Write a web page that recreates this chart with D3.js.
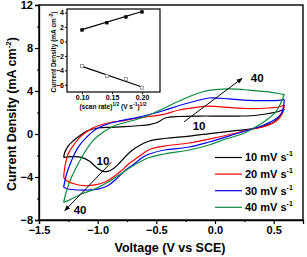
<!DOCTYPE html>
<html><head><meta charset="utf-8">
<script src="https://cdn.jsdelivr.net/npm/d3@7"></script>
<style>body{margin:0;background:#fff}svg{display:block;font-family:"Liberation Sans",Arial,sans-serif;font-weight:bold}</style>
</head><body><svg id="c" width="307" height="257"></svg>
<script>
// ---- data ----
const seriesNames = ["10 mV s", "20 mV s", "30 mV s", "40 mV s"];
const seriesColors = ["#000000", "#ff0000", "#0000ff", "#0a8a3c"];
// anodic (upper) branches, from left vertex to right vertex [V, J]
const up10 = [[-1.29,-2.17],[-1.280,-1.70],[-1.252,-1.12],[-1.209,-0.65],[-1.153,-0.16],[-1.082,0.31],[-0.997,0.56],[-0.884,0.62],[-0.771,0.68],[-0.658,0.77],[-0.559,0.88],[-0.492,1.07],[-0.424,1.49],[-0.305,1.63],[-0.136,1.67],[0.034,1.67],[0.203,1.67],[0.331,1.72],[0.458,1.91],[0.542,2.09],[0.59,2.33]];
const up20 = [[-1.29,-4.03],[-1.280,-3.10],[-1.252,-1.86],[-1.209,-1.09],[-1.153,-0.31],[-1.082,0.31],[-0.997,0.77],[-0.884,1.09],[-0.771,1.24],[-0.658,1.49],[-0.559,1.63],[-0.449,1.81],[-0.305,2.23],[-0.164,2.48],[-0.051,2.60],[0.119,2.47],[0.288,2.37],[0.458,2.42],[0.542,2.51],[0.59,2.70]];
const up30 = [[-1.29,-4.96],[-1.265,-3.72],[-1.223,-2.48],[-1.167,-1.24],[-1.096,-0.31],[-1.011,0.47],[-0.913,0.93],[-0.799,1.24],[-0.658,1.55],[-0.559,1.81],[-0.449,2.14],[-0.305,2.65],[-0.164,3.07],[-0.051,3.35],[0.119,3.26],[0.288,3.12],[0.458,3.10],[0.542,3.12],[0.59,3.21]];
const up40 = [[-1.29,-6.35],[-1.265,-5.27],[-1.223,-4.03],[-1.167,-2.79],[-1.110,-1.70],[-1.040,-0.62],[-0.955,0.16],[-0.856,0.77],[-0.757,1.09],[-0.658,1.40],[-0.559,1.77],[-0.449,2.33],[-0.305,3.07],[-0.164,3.72],[-0.051,4.05],[0.119,4.19],[0.288,4.09],[0.458,3.91],[0.542,3.77],[0.59,3.67]];
// cathodic (lower) branches, from right vertex back to left vertex
const dn10 = [[0.59,2.33],[0.557,1.70],[0.500,1.09],[0.401,0.68],[0.316,0.47],[0.175,0.31],[-0.008,0.09],[-0.220,-0.19],[-0.432,-0.42],[-0.559,-0.65],[-0.636,-1.02],[-0.703,-1.49],[-0.763,-2.09],[-0.814,-2.70],[-0.864,-3.21],[-0.913,-3.47],[-0.955,-3.47],[-1.011,-3.10],[-1.068,-2.54],[-1.138,-2.17],[-1.223,-2.11],[-1.29,-2.17]];
const dn20 = [[0.59,2.70],[0.576,1.95],[0.525,1.24],[0.415,0.68],[0.316,0.47],[0.175,0.07],[-0.051,-0.47],[-0.220,-0.84],[-0.432,-1.12],[-0.559,-1.44],[-0.619,-1.86],[-0.661,-2.19],[-0.703,-2.51],[-0.746,-2.88],[-0.797,-3.40],[-0.870,-4.03],[-0.941,-4.49],[-1.025,-4.74],[-1.110,-4.81],[-1.195,-4.65],[-1.265,-4.34],[-1.29,-4.03]];
const dn30 = [[0.59,3.21],[0.585,2.60],[0.568,1.95],[0.517,1.40],[0.401,0.77],[0.316,0.47],[0.175,0.0],[-0.051,-0.74],[-0.220,-1.21],[-0.432,-1.49],[-0.559,-1.86],[-0.619,-2.19],[-0.658,-2.51],[-0.714,-2.98],[-0.771,-3.44],[-0.842,-4.19],[-0.913,-4.81],[-0.997,-5.12],[-1.082,-5.21],[-1.167,-5.21],[-1.252,-5.12],[-1.29,-4.96]];
const dn40 = [[0.59,3.67],[0.557,2.79],[0.514,2.02],[0.430,1.24],[0.316,0.47],[0.231,0.0],[0.091,-0.47],[-0.051,-1.02],[-0.220,-1.49],[-0.432,-1.86],[-0.559,-2.19],[-0.658,-2.70],[-0.743,-3.26],[-0.828,-3.88],[-0.913,-4.49],[-1.025,-5.12],[-1.138,-5.58],[-1.252,-6.20],[-1.29,-6.35]];
const xTicks = [-1.5, -1.0, -0.5, 0.0, 0.5];
const yTicks = [-8, -4, 0, 4, 8, 12];
// inset
const insetX = [0.1, 0.1414, 0.1732, 0.2];
const insetAnodic = [1.6, 2.6, 3.4, 4.1];
const insetCathodic = [-3.4, -4.8, -5.2, -6.4];
const fitAnodic = [[0.1, 1.65], [0.2, 4.15]];
const fitCathodic = [[0.1, -3.45], [0.2, -6.3]];
const insetXTicks = [0.10, 0.15, 0.20];
const insetYTicks = [-6, -4, -2, 0, 2, 4];
// annotation arrows [from, to] and labels
const arrowUp = [[-0.263, 1.14], [0.231, 5.18]];
const arrowDn = [[-0.884, -2.63], [-1.28, -7.13]];
const annotations = [{t:"10", v:-0.136, j:0.77}, {t:"40", v:0.36, j:5.2}, {t:"10", v:-0.955, j:-2.48}, {t:"40", v:-1.15, j:-7.07}];

// ---- drawing ----
const svg = d3.select("#c");
const x = d3.scaleLinear().domain([-1.5, 0.75]).range([39, 303]);
const y = d3.scaleLinear().domain([-8, 12]).range([220, 5]);

const defs = svg.append("defs");
defs.append("marker").attr("id","ah").attr("viewBox","0 0 10 10").attr("refX",9).attr("refY",5)
  .attr("markerWidth",6).attr("markerHeight",6).attr("orient","auto-start-reverse")
  .append("path").attr("d","M0,1L10,5L0,9z").attr("fill","#000");

// axes
const xAxis = d3.axisBottom(x).tickValues(xTicks).tickFormat(d3.format(".1f")).tickSize(4).tickPadding(2);
const gx = svg.append("g").attr("transform","translate(0,220)").call(xAxis);
gx.selectAll("text").attr("font-size",11).attr("font-weight","bold").attr("fill","#000");
svg.append("g").attr("transform","translate(0,220)")
  .call(d3.axisBottom(x).tickValues(d3.range(-1.25, 0.75, 0.5)).tickFormat("").tickSize(2))
  .select(".domain").remove();
const yAxis = d3.axisLeft(y).tickValues(yTicks).tickFormat(d3.format("d")).tickSize(4).tickPadding(2);
const gy = svg.append("g").attr("transform","translate(39,0)").call(yAxis);
gy.selectAll("text").attr("font-size",11).attr("font-weight","bold").attr("fill","#000");
svg.append("g").attr("transform","translate(39,0)")
  .call(d3.axisLeft(y).tickValues(d3.range(-6, 12, 4)).tickFormat("").tickSize(2))
  .select(".domain").remove();
svg.selectAll(".domain").attr("stroke-width",1.3);
svg.selectAll(".tick line").attr("stroke-width",1.2);
// frame
svg.append("rect").attr("x",39).attr("y",5).attr("width",303-39).attr("height",215)
  .attr("fill","none").attr("stroke","#000").attr("stroke-width",1.4);

// axis titles
svg.append("text").attr("x",170).attr("y",252).attr("text-anchor","middle").attr("font-size",12.5)
  .text("Voltage (V vs SCE)");
const yt = svg.append("text").attr("transform","translate(16,114) rotate(-90)").attr("text-anchor","middle").attr("font-size",12.5);
yt.append("tspan").text("Current Density (mA cm");
yt.append("tspan").attr("font-size",8).attr("dy",-5).text("-2");
yt.append("tspan").attr("dy",5).text(")");

// curves
const line = d3.line().x(d=>x(d[0])).y(d=>y(d[1])).curve(d3.curveCatmullRom.alpha(0.5));
const ups = [up10, up20, up30, up40], dns = [dn10, dn20, dn30, dn40];
ups.forEach((u,i)=>{
  svg.append("path").attr("d", line(u)).attr("fill","none").attr("stroke",seriesColors[i]).attr("stroke-width",1.2);
  svg.append("path").attr("d", line(dns[i])).attr("fill","none").attr("stroke",seriesColors[i]).attr("stroke-width",1.2);
});

// arrows
[arrowUp, arrowDn].forEach(a=>{
  svg.append("line").attr("x1",x(a[0][0])).attr("y1",y(a[0][1])).attr("x2",x(a[1][0])).attr("y2",y(a[1][1]))
    .attr("stroke","#000").attr("stroke-width",1).attr("marker-end","url(#ah)");
});
annotations.forEach(a=>{
  svg.append("text").attr("x",x(a.v)).attr("y",y(a.j)).attr("dy","0.36em").attr("text-anchor","middle")
    .attr("font-size",11.5).text(a.t);
});

// legend
seriesNames.forEach((n,i)=>{
  const yy = 157.5 + i*16.6;
  svg.append("line").attr("x1",215).attr("x2",242).attr("y1",yy).attr("y2",yy).attr("stroke",seriesColors[i]).attr("stroke-width",1.2);
  const t = svg.append("text").attr("x",245).attr("y",yy).attr("dy","0.36em").attr("font-size",11);
  t.append("tspan").text(n);
  t.append("tspan").attr("font-size",7).attr("dy",-5).text("-1");
});

// inset
const ix = d3.scaleLinear().domain([0.075, 0.23]).range([67, 160]);
const iy = d3.scaleLinear().domain([-7, 4.5]).range([92, 9]);
const ins = svg.append("g");
ins.append("rect").attr("x",67).attr("y",9).attr("width",93).attr("height",83).attr("fill","#fff").attr("stroke","#000").attr("stroke-width",1.2);
const ixa = ins.append("g").attr("transform","translate(0,92)").call(d3.axisBottom(ix).tickValues(insetXTicks).tickFormat(d3.format(".2f")).tickSize(2).tickPadding(1));
ixa.selectAll("text").attr("font-size",7).attr("font-weight","bold").attr("fill","#000");
const iya = ins.append("g").attr("transform","translate(67,0)").call(d3.axisLeft(iy).tickValues(insetYTicks).tickFormat(d3.format("d")).tickSize(2).tickPadding(1));
iya.selectAll("text").attr("font-size",7).attr("font-weight","bold").attr("fill","#000");
ins.selectAll(".domain").remove();
const ixt = ins.append("text").attr("x",113).attr("y",109).attr("text-anchor","middle").attr("font-size",6.5);
ixt.append("tspan").text("(scan rate)");
ixt.append("tspan").attr("font-size",5).attr("dy",-3).text("1/2");
ixt.append("tspan").attr("dy",3).text(" (V s");
ixt.append("tspan").attr("font-size",5).attr("dy",-3).text("-1");
ixt.append("tspan").attr("dy",3).text(")");
ixt.append("tspan").attr("font-size",5).attr("dy",-3).text("1/2");
const iyt = ins.append("text").attr("transform","translate(56,52) rotate(-90)").attr("text-anchor","middle").attr("font-size",6.5);
iyt.append("tspan").text("Current Density (mA cm");
iyt.append("tspan").attr("font-size",5).attr("dy",-3).text("-2");
iyt.append("tspan").attr("dy",3).text(")");
const iline = d3.line().x(d=>ix(d[0])).y(d=>iy(d[1]));
ins.append("path").attr("d", iline(fitAnodic)).attr("stroke","#000").attr("stroke-width",1.2).attr("fill","none");
ins.append("path").attr("d", iline(fitCathodic)).attr("stroke","#000").attr("stroke-width",1.2).attr("fill","none");
insetX.forEach((v,i)=>{
  ins.append("rect").attr("x",ix(v)-1.7).attr("y",iy(insetAnodic[i])-1.7).attr("width",3.4).attr("height",3.4).attr("fill","#000");
  ins.append("rect").attr("x",ix(v)-1.5).attr("y",iy(insetCathodic[i])-1.5).attr("width",3).attr("height",3).attr("fill","#fff").attr("stroke","#888").attr("stroke-width",0.8);
});
</script></body></html>
